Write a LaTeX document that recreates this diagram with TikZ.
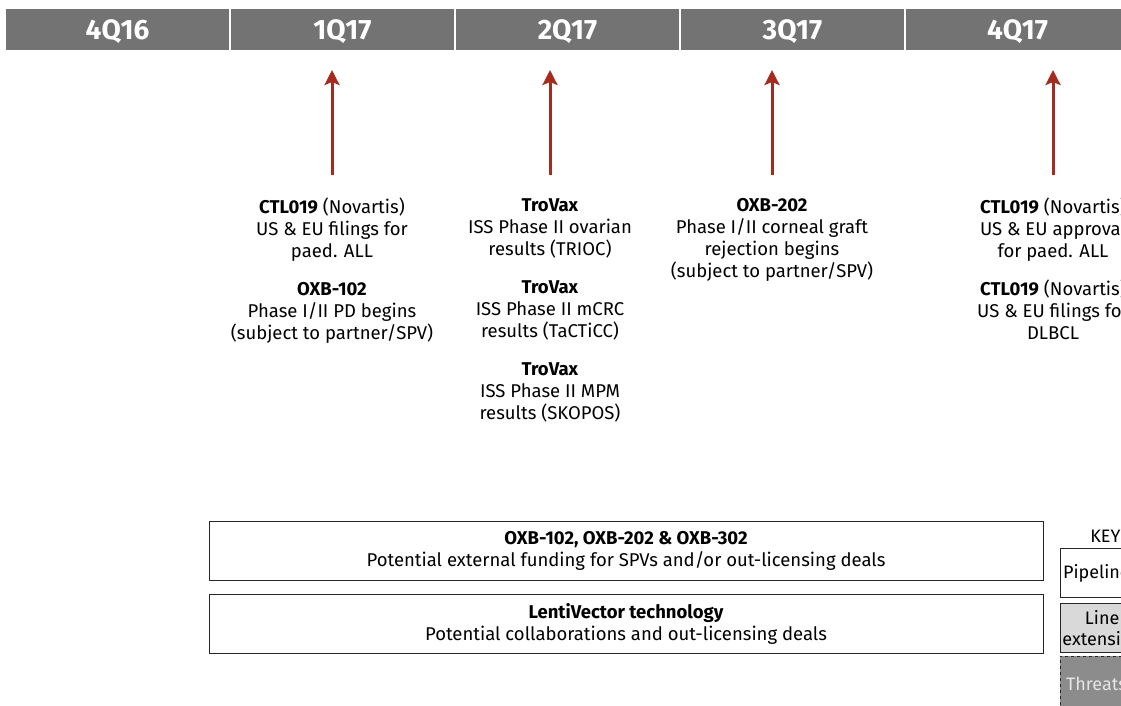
\documentclass[tikz,border=0pt]{standalone}
\usepackage{fontspec}
\setmainfont{Fira Sans}
\usepackage{tikz}
\usetikzlibrary{calc,positioning,arrows.meta,shapes}
\definecolor{bargray}{RGB}{115,115,115}
\definecolor{milered}{RGB}{166,43,31}
\definecolor{keylight}{RGB}{217,217,217}
\definecolor{keydark}{RGB}{140,140,140}
\tikzset{
>={Stealth[length=15pt,width=15pt,inset=3pt]},
  quarter/.style={
    rectangle,
    fill=bargray,
    % draw=white,
    text=white,
    font=\fontsize{28}{30}\selectfont\bfseries,
    text depth=0pt,
    minimum width=223pt,
    minimum height=41pt,
    inner sep=0pt},
  event/.style={
    align=center,
    anchor=north,
    inner sep=0pt,
    font=\fontsize{18.5}{22}\selectfont},
  milestone/.style={draw=milered, line width=3pt, ->, shorten <=23pt},
  deal/.style={
    rectangle,
    draw=black!85, thick,
    minimum width=834pt,
    minimum height=59pt,
    align=center,
    font=\fontsize{18.5}{22}\selectfont},
  keybox/.style={
    rectangle,
    draw=black!85, thick,
    anchor=north west,
    minimum width=72pt,
    minimum height=49pt,
    inner xsep=2pt,
    align=center,
    font=\fontsize{18}{21}\selectfont},
}

\begin{document}
\begin{tikzpicture}[x=1pt,y=-1pt]
  \useasboundingbox (0,0) rectangle (1121,706);
  \clip (0,0) rectangle (1121,706);
  \foreach \qname [count=\i] in {4Q16,1Q17,2Q17,3Q17,4Q17}
    \node[quarter] (q\i) at ({117.5+225*(\i-1)},30) {\qname};

  \node[event] (ev1) at (332,198) {\textbf{CTL019} (Novartis)\\US \& EU filings for\\paed. ALL\\[16pt]
    \textbf{OXB-102}\\Phase I/II PD begins\\(subject to partner/SPV)};
  \node[event] (ev2) at (550,198) {\textbf{TroVax}\\ISS Phase II ovarian\\results (TRIOC)\\[16pt]
    \textbf{TroVax}\\ISS Phase II mCRC\\results (TaCTiCC)\\[16pt]
    \textbf{TroVax}\\ISS Phase II MPM\\results (SKOPOS)};
  \node[event] (ev3) at (772,198) {\textbf{OXB-202}\\Phase I/II corneal graft\\rejection begins\\(subject to partner/SPV)};
  \node[event] (ev4) at (1053,198) {\textbf{CTL019} (Novartis)\\US \& EU approval\\for paed. ALL\\[16pt]
    \textbf{CTL019} (Novartis)\\US \& EU filings for\\DLBCL};

  \foreach \i in {1,...,4}{
    \path (ev\i.north) ++(0,-128) coordinate (tip\i);
    \draw[milestone] (ev\i.north) -- (tip\i);
  }

  \node[deal] (fund) at (626,550.5) {\textbf{OXB-102, OXB-202 \& OXB-302}\\Potential external funding for SPVs and/or out-licensing deals};
  \node[deal, below=14pt of fund] (lenti) {\textbf{LentiVector technology}\\Potential collaborations and out-licensing deals};

  \node[keybox] (pipe) at (1060,548) {Pipeline};
  \node[keybox, fill=keylight] (ext) at ([yshift=-5pt]pipe.south west) {Line\\extension};
  \node[keybox, fill=keydark, dashed, text=white!90!black, minimum height=56pt] (threat) at ([yshift=-3pt]ext.south west) {Threats};
  \node[font=\fontsize{18}{20}\selectfont, above=2pt of pipe, xshift=9pt] (key) {KEY};
\end{tikzpicture}
\end{document}
